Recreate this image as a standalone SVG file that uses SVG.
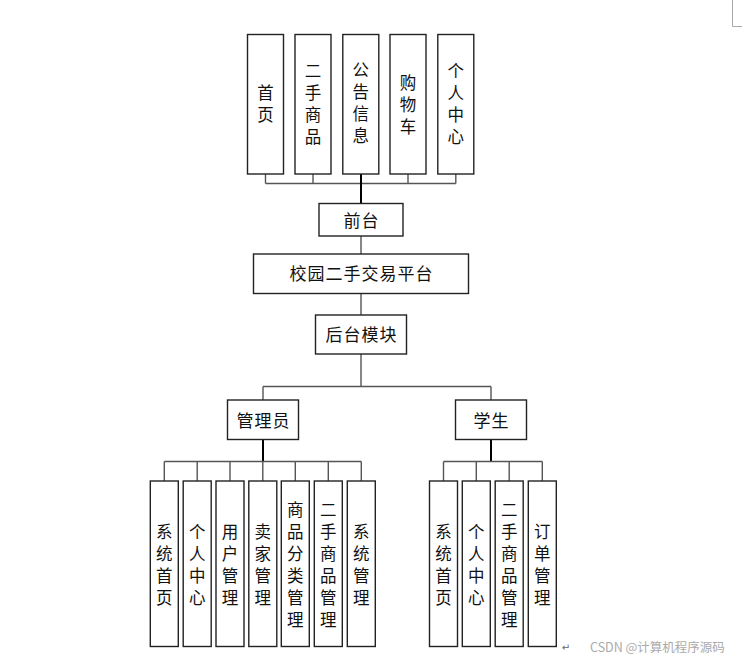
<svg xmlns="http://www.w3.org/2000/svg" width="742" height="659" viewBox="0 0 742 659">
<style>
.box{fill:#fff;stroke:#222;stroke-width:1.4}
.t{font-family:"Noto Sans CJK SC","Noto Sans",sans-serif;font-size:17px;fill:#111;text-anchor:middle;dominant-baseline:central}
.h{letter-spacing:1px}
.v{font-family:"Noto Sans CJK SC","Noto Sans",sans-serif;font-size:16.5px;fill:#111;text-anchor:middle;writing-mode:vertical-rl;letter-spacing:5.5px}
.c{fill:none;stroke:#555;stroke-width:1.4}
.k{fill:none;stroke:#000;stroke-width:2}
</style>
<rect width="742" height="659" fill="#fff"/>
<path d="M732.5 0V26.5H742" fill="none" stroke="#aaa" stroke-width="1"/>
<g id="connectors">
<path class="c" d="M265.5 174V183.5M313 174V183.5M408 174V183.5M455.8 174V183.5M265.5 183.5H455.8"/>
<path class="k" d="M361 174V203.5"/>
<path class="c" d="M361 236V254M361 293.5V315M361 354V386.5M263 386.5H491M263 386.5V400M491 386.5V400"/>
<path class="k" d="M263 439.5V461.5M491 439.5V461.5"/>
<path class="c" d="M164.3 461.5H361.3M164.3 461.5V481M197.2 461.5V481M230 461.5V481M262.8 461.5V481M295.3 461.5V481M328.3 461.5V481M361.3 461.5V481"/>
<path class="c" d="M443.5 461.5H542.3M443.5 461.5V481M476.3 461.5V481M509.2 461.5V481M542.3 461.5V481"/>
</g>
<g id="n-home"><rect class="box" x="247.5" y="34.5" width="36" height="139.5"/><text class="v" x="265.5" y="106">首页</text></g>
<g id="n-goods"><rect class="box" x="295" y="34.5" width="36" height="139.5"/><text class="v" x="313" y="106">二手商品</text></g>
<g id="n-notice"><rect class="box" x="342.8" y="34.5" width="36" height="139.5"/><text class="v" x="360.8" y="105">公告信息</text></g>
<g id="n-cart"><rect class="box" x="390" y="34.5" width="36" height="139.5"/><text class="v" x="408" y="107">购物车</text></g>
<g id="n-personal"><rect class="box" x="437.8" y="34.5" width="36" height="139.5"/><text class="v" x="455.8" y="106">个人中心</text></g>
<g id="n-front"><rect class="box" x="319" y="203.5" width="84" height="32.5"/><text class="t h" x="361.5" y="219.5">前台</text></g>
<g id="n-platform"><rect class="box" x="253.5" y="254" width="215" height="39.5"/><text class="t h" x="361.5" y="272.5">校园二手交易平台</text></g>
<g id="n-back"><rect class="box" x="315.5" y="315" width="91" height="39"/><text class="t h" x="361.5" y="333.5">后台模块</text></g>
<g id="n-admin"><rect class="box" x="227.5" y="400" width="71" height="39.5"/><text class="t h" x="263.5" y="419">管理员</text></g>
<g id="n-student"><rect class="box" x="455.5" y="400" width="71" height="39.5"/><text class="t h" x="491.5" y="419">学生</text></g>
<g id="a-1"><rect class="box" x="150.3" y="481" width="28" height="165.5"/><text class="v" x="164.3" y="567">系统首页</text></g>
<g id="a-2"><rect class="box" x="183.2" y="481" width="28" height="165.5"/><text class="v" x="197.2" y="567">个人中心</text></g>
<g id="a-3"><rect class="box" x="216" y="481" width="28" height="165.5"/><text class="v" x="230" y="567">用户管理</text></g>
<g id="a-4"><rect class="box" x="248.8" y="481" width="28" height="165.5"/><text class="v" x="262.8" y="567">卖家管理</text></g>
<g id="a-5"><rect class="box" x="281.3" y="481" width="28" height="165.5"/><text class="v" x="295.3" y="567">商品分类管理</text></g>
<g id="a-6"><rect class="box" x="314.3" y="481" width="28" height="165.5"/><text class="v" x="328.3" y="567">二手商品管理</text></g>
<g id="a-7"><rect class="box" x="347.3" y="481" width="28" height="165.5"/><text class="v" x="361.3" y="567">系统管理</text></g>
<g id="s-1"><rect class="box" x="429.5" y="481" width="28" height="165.5"/><text class="v" x="443.5" y="567">系统首页</text></g>
<g id="s-2"><rect class="box" x="462.3" y="481" width="28" height="165.5"/><text class="v" x="476.3" y="567">个人中心</text></g>
<g id="s-3"><rect class="box" x="495.2" y="481" width="28" height="165.5"/><text class="v" x="509.2" y="567">二手商品管理</text></g>
<g id="s-4"><rect class="box" x="528.3" y="481" width="28" height="165.5"/><text class="v" x="542.3" y="567">订单管理</text></g>
<text x="566" y="647" font-family="'DejaVu Sans',sans-serif" font-size="10" fill="#666" text-anchor="middle" dominant-baseline="central">↵</text>
<text x="590" y="646" font-family="'Noto Sans CJK SC','Noto Sans',sans-serif" font-size="12.5" fill="#aaa" dominant-baseline="central">CSDN @计算机程序源码</text>
</svg>
